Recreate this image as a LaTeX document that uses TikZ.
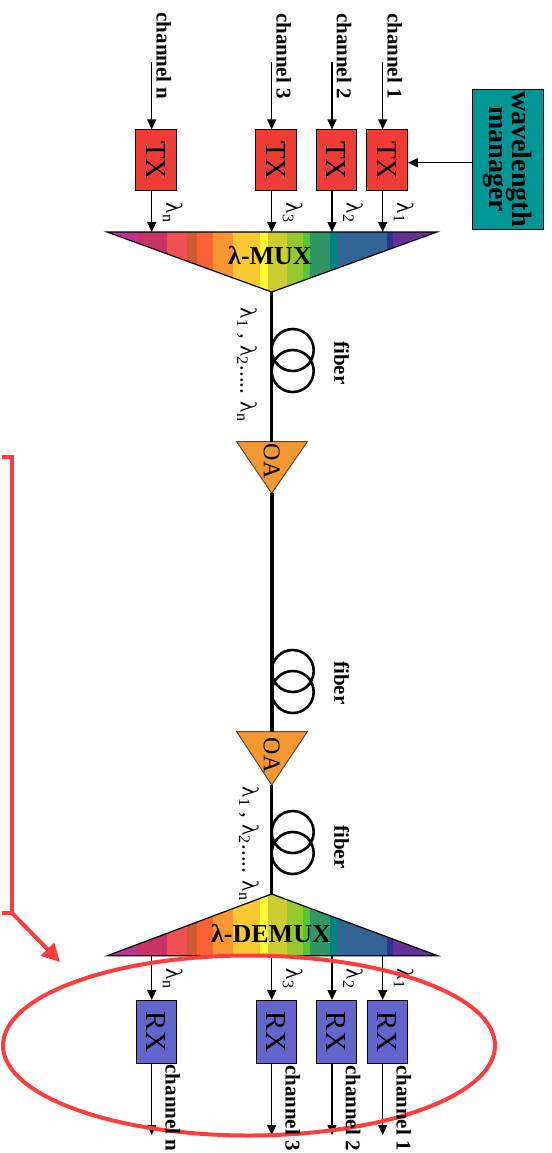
\documentclass[tikz,border=0pt]{standalone}
\usepackage{fontspec}
\setmainfont{Liberation Serif}
\usetikzlibrary{arrows.meta}
\definecolor{txred}{RGB}{240,60,55}
\definecolor{rxblue}{RGB}{100,100,205}
\definecolor{wmteal}{RGB}{0,150,150}
\definecolor{oaorange}{RGB}{245,152,50}
\definecolor{markred}{RGB}{255,60,60}
\definecolor{sp1}{RGB}{190,50,150}
\definecolor{sp2}{RGB}{200,50,100}
\definecolor{sp3}{RGB}{240,80,80}
\definecolor{sp4}{RGB}{205,90,50}
\definecolor{sp5}{RGB}{250,100,50}
\definecolor{sp6}{RGB}{250,150,50}
\definecolor{sp7}{RGB}{250,200,50}
\definecolor{sp8}{RGB}{255,250,50}
\definecolor{sp9}{RGB}{205,205,50}
\definecolor{sp10}{RGB}{150,200,50}
\definecolor{sp11}{RGB}{80,200,50}
\definecolor{sp12}{RGB}{50,150,100}
\definecolor{sp13}{RGB}{0,130,130}
\definecolor{sp14}{RGB}{50,100,150}
\definecolor{sp15}{RGB}{50,50,150}
\definecolor{sp16}{RGB}{100,50,150}
\newcommand{\lam}[1]{λ\textsubscript{#1}}
\newcommand{\spectrum}[2]{%
  \foreach \a/\b/\c in {107/138/sp1,138/167/sp2,167/187/sp3,187/197/sp4,
    197/213/sp5,213/233/sp6,233/260/sp7,260/268/sp8,268/287/sp9,287/303/sp10,
    303/310/sp11,310/330/sp12,330/338/sp13,338/387/sp14,387/393/sp15,393/438/sp16}
    {\fill[\c] (\a,#1) rectangle (\b+0.6,#2);}}
\begin{document}
\begin{tikzpicture}[x=0.5pt,y=-0.5pt,
    arr/.style={line width=0.75pt,-{Triangle[length=5pt,width=4.5pt]}},
    txbox/.style={draw,line width=0.5pt,fill=txred,minimum width=20.25pt,minimum height=30.5pt,inner sep=0pt,font=\fontsize{14.5}{15}\selectfont},
    rxbox/.style={txbox,fill=rxblue,minimum width=20pt,minimum height=31.5pt},
    chan/.style={rotate=-90,inner sep=0pt,font=\fontsize{10.5}{12}\bfseries\selectfont},
    lab/.style={rotate=-90,inner sep=0pt,font=\fontsize{11.5}{12}\selectfont},
    oatext/.style={rotate=-90,inner sep=0pt,font=\fontsize{12}{13}\selectfont},
    fiber/.style={line width=1.6pt},
    coil/.style={line width=1.3pt},
    redmark/.style={draw=markred,line width=2pt}]
    \useasboundingbox (0,0) rectangle (552,1153);

    \begin{scope}
        \clip (107,232) -- (437,232) -- (271.7,292) -- cycle;
        \spectrum{225}{300}
    \end{scope}
    \draw[line width=0.6pt] (107,232) -- (437,232) -- (271.7,292) -- cycle;
    \node[font=\fontsize{13}{14}\bfseries\selectfont] (mux) at (270,255) {λ-MUX};
    \coordinate (muxin) at (271.7,232);
    \coordinate (muxout) at (271.7,292);

    \begin{scope}
        \clip (107.4,955.7) -- (437.7,955.7) -- (271.7,894) -- cycle;
        \spectrum{890}{960}
    \end{scope}
    \draw[line width=0.6pt] (107.4,955.7) -- (437.7,955.7) -- (271.7,894) -- cycle;
    \node[font=\fontsize{13}{14}\bfseries\selectfont] (demux) at (271,933) {λ-DEMUX};
    \coordinate (demuxin) at (271.7,894);
    \coordinate (demuxout) at (271.7,955.7);

    \fill[oaorange,draw=black!70,line width=0.5pt] (236.7,441.7) -- (307.3,441.7) -- (271.7,493.3) -- cycle;
    \node[oatext] (oa1) at (271.7,461) {OA};
    \coordinate (oa1in) at (271.7,441.7);
    \coordinate (oa1out) at (271.7,493.3);
    \fill[oaorange,draw=black!70,line width=0.5pt] (236.7,731.7) -- (307.3,731.7) -- (271.7,785) -- cycle;
    \node[oatext] (oa2) at (271.7,755) {OA};
    \coordinate (oa2in) at (271.7,731.7);
    \coordinate (oa2out) at (271.7,785);

    \draw[fiber] (muxout) -- (oa1in);
    \draw[fiber,line width=2pt] (oa1out) -- (oa2in);
    \draw[fiber] (oa2out) -- (demuxin);
    \foreach \y in {350,671,832}
        \draw[coil] (292.7,\y) circle[radius=21] (292.7,\y+21) circle[radius=21];
    \node[chan] (f1) at (341.7,363) {fiber};
    \node[chan] (f2) at (341.7,683) {fiber};
    \node[chan] (f3) at (341.7,847) {fiber};
    \node[lab] (wl1) at (247,365) {\lam{1} , \lam{2}..... \lam{n}};
    \node[lab] (wl2) at (249,844) {\lam{1} , \lam{2}..... \lam{n}};

    \foreach \x/\n in {151.7/n,271.7/3,332/2,382.7/1} {
        \coordinate (in\n) at (\x,62);
        \node[chan] (cin\n) at (\x+12,56) {channel \n};
        \node[txbox] (tx\n) at (\x+4.4,160.4) {\rotatebox{-90}{TX}};
        \draw[arr] (in\n) -- (in\n |- tx\n.north);
        \draw[arr] (tx\n.south -| in\n) -- (in\n |- muxin);
        \node[lab] (lt\n) at (\x+21,213) {\lam{\n}};
        \node[rxbox] (rx\n) at (\x+4.4,1032) {\rotatebox{-90}{RX}};
        \coordinate (out\n) at (\x,1135);
        \draw[arr] (in\n |- demuxout) -- (in\n |- rx\n.north);
        \draw[arr] (rx\n.south -| in\n) -- (out\n);
        \node[lab] (lr\n) at (\x+21,979) {\lam{\n}};
    }

    \node[draw,line width=0.5pt,fill=wmteal,minimum width=35.5pt,minimum height=70pt,inner sep=0pt,
        font=\fontsize{14}{11.5}\bfseries\selectfont] (wm) at (507.5,159)
        {\rotatebox{-90}{\begin{tabular}{@{}c@{}}wavelength\\manager\end{tabular}}};
    \draw[arr] (wm.west |- 0,162.7) -- (tx1.east |- 0,162.7);

    \draw[redmark] (249,1045.5) ellipse[x radius=246,y radius=90];
    \coordinate (bt) at (12,457);
    \coordinate (bb) at (12,913);
    \draw[redmark] (2,457) -- (bt) -- (bb) -- (2,913);
    \coordinate (bend) at (60,962);
    \draw[redmark,-{Triangle[length=9pt,width=9pt]}] (bb) -- (bend);

    \foreach \x/\n in {151.7/n,271.7/3,332/2,382.7/1}
        \node[chan] (cout\n) at (\x+21,1108) {channel \n};
\end{tikzpicture}
\end{document}
